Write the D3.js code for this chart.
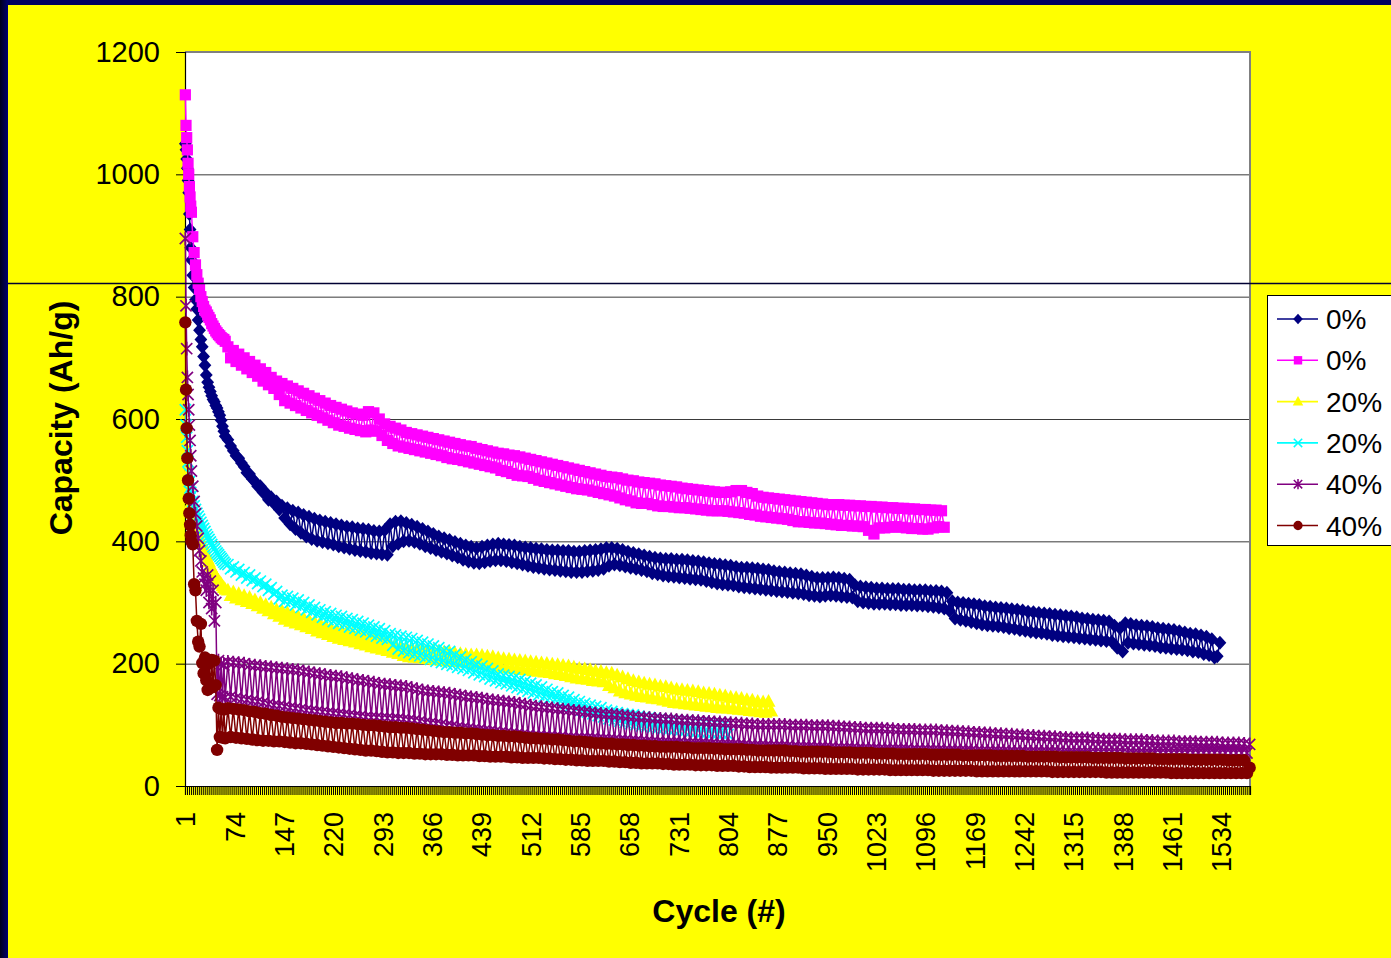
<!DOCTYPE html>
<html><head><meta charset="utf-8">
<script src="https://cdn.jsdelivr.net/npm/d3@7"></script>
<style>body{margin:0;background:#ffff00;}svg{display:block}</style>
</head><body>
<svg id="chart" width="1391" height="958"></svg>
<script>
// ---------- DATA ----------
const nCategories = 1576;
const cycles = [1,2,3,4,5,6,7,8,9,10,12,14,16,18,20,22,24,26,28,30,32,34,36,38,40,42,44,46,48,50,52,54,56,58,60,
64,68,72,76,80,84,88,92,96,100,104,108,112,116,120,124,128,132,136,140,
144,148,152,156,160,164,168,172,176,180,184,188,192,196,200,204,208,212,216,220,
224,228,232,236,240,244,248,252,256,260,264,268,272,276,280,284,288,292,296,300,
304,308,312,316,320,324,328,332,336,340,344,348,352,356,360,364,368,372,376,380,
384,388,392,396,400,404,408,412,416,420,424,428,432,436,440,444,448,452,456,460,
464,468,472,476,480,484,488,492,496,500,504,508,512,516,520,524,528,532,536,540,
544,548,552,556,560,564,568,572,576,580,584,588,592,596,600,604,608,612,616,620,
624,628,632,636,640,644,648,652,656,660,664,668,672,676,680,684,688,692,696,700,
704,708,712,716,720,724,728,732,736,740,744,748,752,756,760,764,768,772,776,780,
784,788,792,796,800,804,808,812,816,820,824,828,832,836,840,844,848,852,856,860,
864,868,872,876,880,884,888,892,896,900,904,908,912,916,920,924,928,932,936,940,
944,948,952,956,960,964,968,972,976,980,984,988,992,996,1000,1004,1008,1012,1016,1020,
1024,1028,1032,1036,1040,1044,1048,1052,1056,1060,1064,1068,1072,1076,1080,1084,1088,1092,1096,1100,
1104,1108,1112,1116,1120,1124,1128,1132,1136,1140,1144,1148,1152,1156,1160,1164,1168,1172,1176,1180,
1184,1188,1192,1196,1200,1204,1208,1212,1216,1220,1224,1228,1232,1236,1240,1244,1248,1252,1256,1260,
1264,1268,1272,1276,1280,1284,1288,1292,1296,1300,1304,1308,1312,1316,1320,1324,1328,1332,1336,1340,
1344,1348,1352,1356,1360,1364,1368,1372,1376,1380,1384,1388,1392,1396,1400,1404,1408,1412,1416,1420,
1424,1428,1432,1436,1440,1444,1448,1452,1456,1460,1464,1468,1472,1476,1480,1484,1488,1492,1496,1500,
1504,1508,1512,1516,1520,1524,1528,1532,1536,1540,1544,1548,1552,1556,1560,1564,1568,1572,1576];

const navyA = [1050,1040,1025,1010,990,970,935,910,880,860,835,815,795,780,762,745,730,718,702,688,672,660,652,645,638,632,628,622,618,612,606,598,588,580,572,
566,556,548,540,536,528,522,512,510,502,498,490,490,480,480,468,472,462,465,452,
458,438,454,428,450,420,447,414,443,408,440,404,437,401,434,399,432,397,430,395,
428,392,426,390,424,388,423,386,421,384,420,383,419,381,417,380,416,379,418,378,
428,392,432,396,433,400,430,401,427,399,424,396,420,392,416,389,412,386,408,383,
405,380,402,377,399,374,396,370,393,367,391,365,389,364,391,366,393,368,395,369,
396,369,395,368,394,366,393,364,391,362,390,360,389,358,388,357,387,355,386,354,
385,353,385,352,384,351,384,350,383,350,383,350,384,351,385,352,386,353,387,355,
389,360,389,362,388,361,386,359,383,357,381,355,379,353,377,351,375,348,373,346,
372,344,371,343,371,342,370,341,370,340,369,339,368,338,367,337,366,335,364,333,
363,331,362,330,361,329,360,328,358,326,357,325,357,324,356,323,355,322,354,321,
353,320,351,319,350,318,349,317,348,316,347,315,346,314,344,312,342,311,340,310,
340,311,340,312,341,311,340,310,339,309,337,308,328,302,326,300,325,299,324,298,
323,298,323,298,322,297,322,297,322,296,321,296,321,296,320,295,320,295,320,294,
319,293,319,292,318,290,316,286,302,274,300,272,299,270,298,268,297,266,296,264,
294,263,293,262,292,261,291,260,290,258,289,257,288,255,287,254,285,252,284,251,
283,250,282,249,281,247,280,246,279,245,278,244,277,243,276,242,274,241,273,240,
272,239,271,238,270,237,269,236,262,226,258,220,266,234,265,233,263,232,262,231,
261,230,260,229,258,227,257,226,256,225,255,224,253,223,251,222,249,220,248,219,
246,216,244,214,240,210,212,234];

const magentaA = [1130,1080,1060,1040,1018,1000,980,963,948,938,898,872,852,836,822,812,800,792,784,778,775,770,766,762,756,752,748,744,741,738,736,733,731,730,727,
718,700,712,694,706,688,700,682,694,676,688,670,682,662,676,656,668,650,662,640,
658,630,654,626,650,622,646,618,642,614,638,610,634,606,630,602,626,598,622,594,
619,590,616,588,613,585,610,583,608,581,606,579,612,582,610,580,600,573,592,565,
588,560,585,556,582,554,578,552,576,550,574,548,572,546,570,544,568,542,566,540,
564,537,562,535,560,534,558,532,556,530,555,528,552,526,550,524,548,522,546,520,
544,516,543,514,541,511,540,508,538,507,536,506,534,503,532,500,530,498,528,496,
526,494,524,492,522,490,520,488,518,486,516,485,514,484,512,482,510,480,508,478,
506,476,505,474,504,471,502,468,500,466,499,463,497,462,496,462,495,460,494,458,
492,457,491,457,490,456,489,455,487,455,486,454,485,453,484,452,483,451,482,450,
481,450,480,450,480,449,481,448,483,447,483,446,480,444,478,443,474,441,472,440,
471,439,470,438,469,437,468,436,467,434,466,432,465,432,464,431,463,430,462,430,
461,429,460,428,460,427,460,426,459,426,459,425,458,425,458,424,457,418,457,412,
456,422,456,422,455,423,455,424,454,423,454,422,453,421,453,421,452,420,452,420,
451,422,451,424,450,423];

const yellowB = [555,540,525,510,498,488,478,470,462,455,445,436,428,420,413,406,400,396,390,383,377,371,366,360,355,350,347,343,339,336,333,330,327,324,321,
320,311,317,307,314,304,311,301,308,298,304,294,300,290,296,286,292,281,288,277,
286,272,283,269,280,266,277,263,274,260,271,257,268,253,265,250,262,247,258,244,
255,241,253,239,251,237,249,235,247,232,245,230,242,227,240,225,237,223,234,221,
231,218,229,216,227,213,226,211,225,210,224,209,223,208,222,207,221,206,220,205,
219,204,218,204,217,203,216,202,215,201,214,200,214,200,213,199,212,198,211,197,
209,194,208,193,207,192,206,191,205,190,204,189,203,188,202,187,201,186,200,185,
199,183,198,182,197,180,196,178,194,176,192,175,191,174,190,172,188,171,187,170,
185,164,184,160,181,155,178,152,175,150,172,148,170,146,168,145,166,143,165,142,
163,140,162,138,160,136,158,135,157,134,156,133,155,132,154,131,152,130,151,129,
150,128,148,127,147,127,145,126,144,125,143,124,141,123,140,122,138,121,137,120,
138,122];

const cyanB = [615,590,570,548,530,512,498,487,480,474,465,458,452,446,441,436,431,426,421,416,411,407,403,399,395,391,388,384,381,378,375,372,369,366,363,
362,355,358,350,354,345,349,340,345,336,340,331,335,326,330,320,324,314,318,306,
312,302,310,300,307,296,304,292,300,288,296,284,292,280,288,276,285,272,282,269,
279,266,277,263,274,260,272,258,269,255,266,252,263,248,260,245,257,242,254,240,
249,230,247,224,245,221,243,218,241,215,238,213,235,210,232,207,229,204,226,202,
222,199,220,197,215,194,211,192,207,189,203,185,199,182,196,179,192,175,188,172,
183,169,181,167,179,164,177,161,174,158,171,155,168,152,165,149,162,146,158,144,
154,141,152,139,148,135,145,132,141,128,138,124,135,121,132,118,130,115,128,113,
124,110,122,108,120,106,118,104,117,102,116,100,114,98,113,97,112,95,111,94,
110,93,109,92,108,91,108,90,107,89,107,88,106,87,105,86,105,86,104,85,
103,85,103,84,101,84];

const purpleC = [895,785,715,668,640,615,590,565,540,515,490,465,445,425,405,385,368,350,340,330,320,345,300,335,290,320,270,300,150,205,148,200,146,198,145,
203,146,202,144,201,142,200,141,198,139,197,138,196,136,195,134,194,132,193,131,
192,130,191,128,190,127,189,126,187,124,186,123,184,122,183,121,181,120,180,119,
179,118,178,117,176,116,175,115,173,114,172,113,170,112,169,112,167,111,166,111,
165,110,164,110,163,109,162,108,160,107,158,106,156,104,155,103,154,102,153,101,
152,99,151,98,149,96,148,95,146,94,145,93,144,92,143,91,141,90,140,89,
139,88,138,87,137,86,136,85,134,84,133,83,131,82,130,82,129,81,128,81,
127,80,126,80,125,79,124,79,123,78,122,78,121,78,120,78,119,77,118,77,
117,76,117,76,116,75,115,75,114,74,113,74,112,73,112,73,111,72,110,72,
110,71,109,71,109,71,108,71,107,70,107,70,106,70,106,70,105,69,105,69,
104,68,104,68,103,68,103,68,102,67,102,67,101,66,101,66,100,66,100,66,
100,65,100,65,100,65,100,65,99,64,99,64,99,64,99,64,98,63,98,63,
98,63,98,63,97,62,97,62,96,62,96,62,95,61,95,61,94,61,94,61,
94,60,94,60,93,60,93,60,92,60,92,60,92,59,92,59,91,59,91,59,
91,59,91,59,90,58,90,58,89,58,89,58,88,58,88,58,87,57,87,57,
86,57,86,57,85,57,85,57,84,56,84,56,83,56,83,56,82,56,82,56,
81,56,81,56,80,56,80,56,79,55,79,55,78,55,78,55,78,55,78,55,
77,55,77,55,76,55,76,55,76,55,76,55,75,54,75,54,75,54,75,54,
74,54,74,54,73,54,73,54,73,54,73,54,72,54,72,54,72,54,72,54,
71,54,71,54,71,54,71,54,70,54,70,54,70,54,70,54,69,54,68];

const redC = [758,648,585,536,500,470,446,427,410,400,395,330,320,270,236,228,265,201,184,210,173,157,200,160,206,162,205,165,59,128,80,126,79,125,78,
127,80,126,79,125,78,124,77,122,76,121,75,119,74,118,74,116,73,115,73,
113,72,112,71,111,70,110,70,109,69,108,68,107,67,106,66,105,65,104,64,
103,63,103,62,102,61,102,60,101,59,100,58,99,58,99,57,98,56,97,55,
96,55,96,54,95,54,95,54,94,53,93,53,92,52,91,52,90,52,89,52,
88,51,88,51,87,50,87,50,86,50,86,50,85,49,84,49,83,48,83,48,
82,48,82,48,81,47,81,47,80,46,79,46,78,46,78,46,77,45,77,45,
76,44,76,44,75,43,74,43,73,42,73,42,72,41,71,41,70,41,70,41,
69,40,69,40,68,39,68,39,67,38,67,38,66,37,66,37,65,37,65,37,
64,36,64,36,64,35,64,35,63,35,63,35,62,34,62,34,62,34,62,34,
61,33,61,33,60,33,60,33,60,32,60,32,59,31,59,31,58,31,58,31,
58,30,58,30,58,30,58,30,57,30,57,30,56,29,56,29,56,29,56,29,
56,28,56,28,55,28,55,28,55,28,55,28,54,27,54,27,54,27,54,27,
53,27,53,27,53,26,53,26,52,26,52,26,52,26,52,26,52,26,52,26,
51,25,51,25,51,25,51,25,51,25,51,25,50,25,50,25,50,24,50,24,
50,24,50,24,49,24,49,24,49,24,49,24,49,24,49,24,48,24,48,24,
48,24,48,24,48,23,48,23,47,23,47,23,47,23,47,23,47,23,47,23,
46,23,46,23,46,22,46,22,46,22,46,22,45,22,45,22,45,22,45,22,
45,22,45,22,44,22,44,22,44,21,44,21,44,21,44,21,43,21,43,21,
43,21,43,21,43,21,43,21,43,21,42,21,42,21,42,21,42,21,30];

const seriesNames = ["0%","0%","20%","20%","40%","40%"];
const seriesValues = [navyA, magentaA, yellowB, cyanB, purpleC, redC];
const seriesColors = ["#000080","#ff00ff","#ffff00","#00ffff","#800080","#800000"];
const seriesMarkers = ["diamond","square","triangle","x","star","circle"];
const yTicks = [0,200,400,600,800,1000,1200];
const xTickLabels = [1,74,147,220,293,366,439,512,585,658,731,804,877,950,1023,1096,1169,1242,1315,1388,1461,1534];

// ---------- DRAW ----------
const svg = d3.select("#chart");
const FONT = "'Liberation Sans', Arial, Helvetica, sans-serif";
const L = 185, R = 1250, T = 52, B = 786;

const defs = svg.append("defs");
const g1 = defs.append("linearGradient").attr("id","leftGrad").attr("x1","0").attr("x2","1").attr("y1","0").attr("y2","0");
g1.append("stop").attr("offset","0").attr("stop-color","#00001a");
g1.append("stop").attr("offset","1").attr("stop-color","#000070");

svg.append("rect").attr("width",1391).attr("height",958).attr("fill","#ffff00");
svg.append("rect").attr("x",0).attr("y",0).attr("width",1391).attr("height",5).attr("fill","#000060");
svg.append("rect").attr("x",0).attr("y",0).attr("width",8).attr("height",958).attr("fill","url(#leftGrad)");

const x = d3.scaleBand().domain(d3.range(1, nCategories + 1)).range([L, R]).padding(0);
const xPos = c => x(c) + x.bandwidth() / 2;
const y = d3.scaleLinear().domain([0, 1200]).range([B, T]);

svg.append("rect").attr("x",L).attr("y",T).attr("width",R-L).attr("height",B-T).attr("fill","#fff");

svg.append("g").attr("transform",`translate(${L},0)`)
  .call(d3.axisLeft(y).tickValues(yTicks.filter(v => v > 0 && v < 1200)).tickSize(-(R-L)).tickFormat(""))
  .call(g => g.select(".domain").remove())
  .call(g => g.selectAll("line").attr("stroke","#3a3a3a").attr("stroke-width",1));

svg.append("path").attr("d",`M${L},${T}H${R}V${B}`).attr("fill","none").attr("stroke","#808080").attr("stroke-width",2);

svg.append("g").attr("transform",`translate(${L},0)`)
  .call(d3.axisLeft(y).tickValues(yTicks).tickSize(9).tickPadding(16).tickFormat(d3.format("d")))
  .call(g => g.select(".domain").attr("stroke","#000").attr("stroke-width",1.2))
  .call(g => g.selectAll("line").attr("stroke","#000"))
  .call(g => g.selectAll("text").attr("font-family",FONT).attr("font-size",29).attr("fill","#000"));

svg.append("g").attr("transform",`translate(0,${B})`)
  .call(d3.axisBottom(x).tickValues(d3.range(1, nCategories + 1, 3)).tickSize(9).tickFormat(""))
  .call(g => g.select(".domain").attr("stroke","#000").attr("stroke-width",1.2))
  .call(g => g.selectAll(".tick line").attr("stroke","#000").attr("stroke-width",1));

svg.append("g").attr("transform",`translate(0,${B})`)
  .call(d3.axisBottom(x).tickValues(xTickLabels).tickSize(0))
  .call(g => g.select(".domain").remove())
  .call(g => g.selectAll("text")
      .attr("transform","rotate(-90)")
      .attr("text-anchor","end")
      .attr("x",-26).attr("y",0).attr("dy","0.36em")
      .attr("font-family",FONT).attr("font-size",27).attr("fill","#000"));

function markerPath(t, s){
  s = s || 1;
  const k = v => (v * s).toFixed(2);
  switch(t){
    case "diamond": return `M0,${k(-7)}L${k(6.4)},0L0,${k(7)}L${k(-6.4)},0Z`;
    case "square": return `M${k(-5.6)},${k(-5.6)}H${k(5.6)}V${k(5.6)}H${k(-5.6)}Z`;
    case "triangle": return `M0,${k(-7.6)}L${k(7)},${k(5.2)}L${k(-7)},${k(5.2)}Z`;
    case "x": return `M${k(-5.6)},${k(-5.6)}L${k(5.6)},${k(5.6)}M${k(5.6)},${k(-5.6)}L${k(-5.6)},${k(5.6)}`;
    case "star": return `M${k(-5.6)},${k(-5.6)}L${k(5.6)},${k(5.6)}M${k(5.6)},${k(-5.6)}L${k(-5.6)},${k(5.6)}M0,${k(-6.8)}V${k(6.8)}`;
    case "circle": return `M${k(6.2)},0A${k(6.2)},${k(6.2)} 0 1,1 ${k(-6.2)},0A${k(6.2)},${k(6.2)} 0 1,1 ${k(6.2)},0Z`;
  }
}
const stroked = t => t === "x" || t === "star";

const line = d3.line().x(d => xPos(d.c)).y(d => y(d.v));
const plot = svg.append("g");
seriesValues.forEach((vals, i) => {
  const pts = vals.map((v, k) => ({c: cycles[k], v})).filter(d => d.c !== undefined);
  const g = plot.append("g");
  g.append("path").datum(pts).attr("d", line).attr("fill","none")
    .attr("stroke", seriesColors[i]).attr("stroke-width",1.5);
  g.selectAll("path.m").data(pts).join("path").attr("class","m")
    .attr("transform", d => `translate(${xPos(d.c)},${y(d.v)})`)
    .attr("d", markerPath(seriesMarkers[i]))
    .attr("fill", stroked(seriesMarkers[i]) ? "none" : seriesColors[i])
    .attr("stroke", stroked(seriesMarkers[i]) ? seriesColors[i] : "none")
    .attr("stroke-width", 1.7);
});

svg.append("text").attr("transform","translate(72,418) rotate(-90)").attr("text-anchor","middle")
  .attr("font-family",FONT).attr("font-size",32).attr("font-weight","bold").text("Capacity (Ah/g)");
svg.append("text").attr("x",719).attr("y",922).attr("text-anchor","middle")
  .attr("font-family",FONT).attr("font-size",32).attr("font-weight","bold").text("Cycle (#)");

const leg = svg.append("g");
leg.append("rect").attr("x",1267.5).attr("y",295.5).attr("width",140).attr("height",250)
  .attr("fill","#fff").attr("stroke","#000").attr("stroke-width",1);
seriesNames.forEach((name, i) => {
  const ly = 319 + i * 41.3;
  const e = leg.append("g").attr("transform",`translate(0,${ly})`);
  e.append("line").attr("x1",1277).attr("x2",1318).attr("y1",0).attr("y2",0)
    .attr("stroke", seriesColors[i]).attr("stroke-width",1.6);
  e.append("path").attr("transform","translate(1298,0)").attr("d", markerPath(seriesMarkers[i], 0.75))
    .attr("fill", stroked(seriesMarkers[i]) ? "none" : seriesColors[i])
    .attr("stroke", stroked(seriesMarkers[i]) ? seriesColors[i] : "none").attr("stroke-width",1.5);
  e.append("text").attr("x",1326).attr("y",10).attr("font-family",FONT).attr("font-size",28)
    .attr("fill","#000").text(name);
});

svg.append("line").attr("x1",8).attr("x2",1391).attr("y1",283.5).attr("y2",283.5)
  .attr("stroke","#000033").attr("stroke-width",1.5);
</script>
</body></html>
